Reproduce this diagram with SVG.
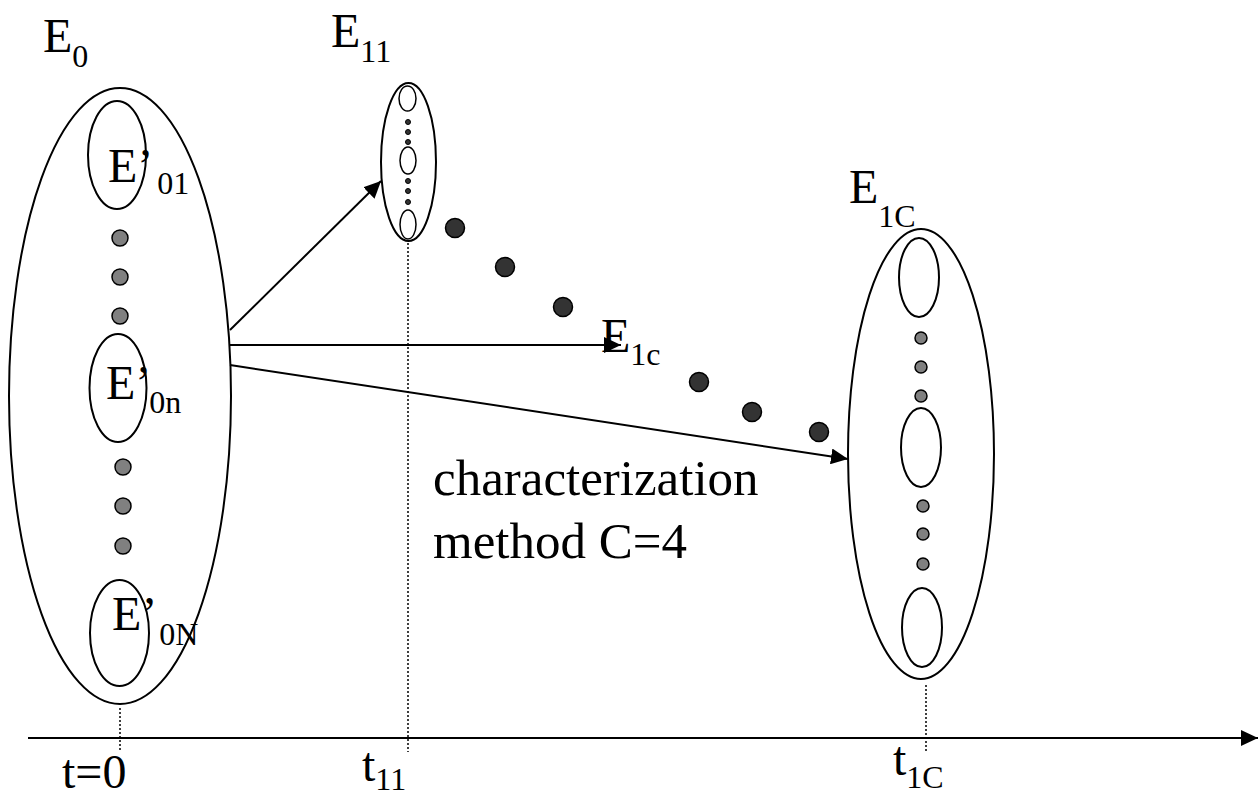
<svg xmlns="http://www.w3.org/2000/svg" width="1260" height="796" viewBox="0 0 1260 796">
<style>
.ol{fill:none;stroke:#000;stroke-width:2}
.gd{fill:#808080;stroke:#000;stroke-width:1.5}
.dd{fill:#333;stroke:#000;stroke-width:1.5}
.sd{fill:#333;stroke:#000;stroke-width:1}
.ln{stroke:#000;stroke-width:2;fill:none}
.dt{stroke:#000;stroke-width:1.5;stroke-dasharray:2,2;fill:none}
text{font-family:"Liberation Serif","Times New Roman",serif;fill:#000}
.big{font-size:48px}
.sub{font-size:32px}
</style>
<defs>
<marker id="ah" markerUnits="userSpaceOnUse" markerWidth="18" markerHeight="16" refX="17" refY="8" orient="auto">
<path d="M0,0 L17,8 L0,16 Z" fill="#000"/>
</marker>
</defs>
<rect width="1260" height="796" fill="#fff"/>
<g id="axis">
<line class="ln" x1="28" y1="738" x2="1258" y2="738" marker-end="url(#ah)"/>
<line class="dt" x1="120" y1="708" x2="120" y2="752"/>
<line class="dt" x1="408" y1="243" x2="408" y2="752"/>
<line class="dt" x1="926" y1="685" x2="926" y2="752"/>
<text class="big" x="62" y="788">t=0</text>
<text class="big" x="362" y="781">t<tspan class="sub" dy="9">11</tspan></text>
<text class="big" x="893" y="775">t<tspan class="sub" dy="13">1C</tspan></text>
</g>
<g id="E0">
<ellipse class="ol" cx="120" cy="396" rx="111" ry="308"/>
<ellipse class="ol" cx="117" cy="155" rx="29" ry="54"/>
<circle class="gd" cx="120" cy="238" r="8"/>
<circle class="gd" cx="120" cy="277" r="8"/>
<circle class="gd" cx="120" cy="316" r="8"/>
<ellipse class="ol" cx="118" cy="388" rx="28.5" ry="54"/>
<circle class="gd" cx="123" cy="467" r="8"/>
<circle class="gd" cx="123" cy="506" r="8"/>
<circle class="gd" cx="123" cy="546" r="8"/>
<ellipse class="ol" cx="119.5" cy="633" rx="29.5" ry="53"/>
<text class="big" x="43" y="52">E<tspan class="sub" dy="15">0</tspan></text>
<text class="big" x="108" y="182">E’<tspan class="sub" dx="4" dy="12">01</tspan></text>
<text class="big" x="106" y="399">E’<tspan class="sub" dx="-2" dy="14">0n</tspan></text>
<text class="big" x="112" y="630">E’<tspan class="sub" dx="2" dy="15">0N</tspan></text>
</g>
<g id="E11">
<ellipse class="ol" cx="408.5" cy="162" rx="27.5" ry="79"/>
<ellipse class="ol" cx="407.5" cy="98.5" rx="8.5" ry="12.5" style="stroke-width:1.5"/>
<ellipse class="ol" cx="408" cy="160.5" rx="8" ry="13.5" style="stroke-width:1.5"/>
<ellipse class="ol" cx="408" cy="224.5" rx="8" ry="14.5" style="stroke-width:1.5"/>
<circle class="sd" cx="408" cy="122" r="2.5"/>
<circle class="sd" cx="408" cy="132" r="2.5"/>
<circle class="sd" cx="408" cy="142" r="2.5"/>
<circle class="sd" cx="408" cy="181" r="2.5"/>
<circle class="sd" cx="408" cy="191" r="2.5"/>
<circle class="sd" cx="408" cy="202" r="2.5"/>
<text class="big" x="331" y="47">E<tspan class="sub" dy="15">11</tspan></text>
</g>
<g id="E1C">
<ellipse class="ol" cx="921" cy="454" rx="73" ry="225"/>
<ellipse class="ol" cx="919" cy="277.5" rx="20" ry="39.5"/>
<circle class="gd" cx="921" cy="338" r="6"/>
<circle class="gd" cx="921" cy="367" r="6"/>
<circle class="gd" cx="921" cy="396" r="6"/>
<ellipse class="ol" cx="921" cy="447.5" rx="20" ry="39.5"/>
<circle class="gd" cx="923" cy="506" r="6"/>
<circle class="gd" cx="923" cy="534" r="6"/>
<circle class="gd" cx="923" cy="564" r="6"/>
<ellipse class="ol" cx="922" cy="627.5" rx="20" ry="39.5"/>
<text class="big" x="849" y="203">E<tspan class="sub" dy="24">1C</tspan></text>
</g>
<g id="trail">
<circle class="dd" cx="455" cy="228" r="9.5"/>
<circle class="dd" cx="505" cy="267" r="9.5"/>
<circle class="dd" cx="563" cy="307" r="9.5"/>
<circle class="dd" cx="699" cy="382" r="9.5"/>
<circle class="dd" cx="752" cy="412" r="9.5"/>
<circle class="dd" cx="819" cy="432" r="9.5"/>
</g>
<g id="connectors">
<line class="ln" x1="230" y1="330" x2="381" y2="181" marker-end="url(#ah)"/>
<line class="ln" x1="230" y1="345" x2="621" y2="345" marker-end="url(#ah)"/>
<line class="ln" x1="230" y1="365" x2="848" y2="459" marker-end="url(#ah)"/>
</g>
<g id="E1c-label">
<text class="big" x="601" y="352">E<tspan class="sub" dy="13">1c</tspan></text>
</g>
<g id="caption">
<text class="big" x="433" y="495" style="font-size:51px">characterization</text>
<text class="big" x="433" y="558" style="font-size:51px">method C=4</text>
</g>
</svg>
